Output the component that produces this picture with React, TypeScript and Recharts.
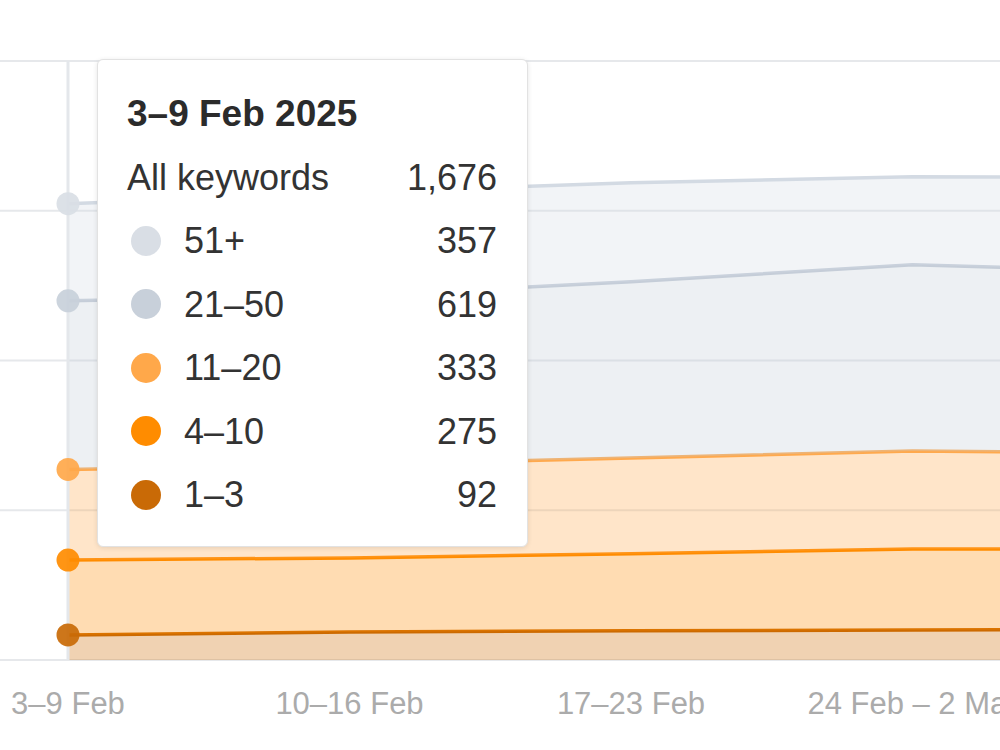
import React from 'react';
import { AreaChart, Area, XAxis, YAxis, CartesianGrid, Tooltip } from 'recharts';

const weeks = ['3–9 Feb', '10–16 Feb', '17–23 Feb', '24 Feb – 2 Mar', '3–9 Mar'];
const weekTitles = ['3–9 Feb 2025', '10–16 Feb 2025', '17–23 Feb 2025', '24 Feb – 2 Mar 2025', '3–9 Mar 2025'];
const pos1to3 = [92, 103, 107, 110, 114];
const pos4to10 = [275, 272, 283, 298, 294];
const pos11to20 = [333, 342, 352, 360, 349];
const pos21to50 = [619, 621, 647, 684, 665];
const pos51plus = [357, 378, 364, 323, 349];
const yTicks = [0, 550, 1100, 1650, 2200];

const series = [
  { key: 'p1_3', name: '1–3', values: pos1to3, stroke: '#cc6a00', dot: '#c96a06' },
  { key: 'p4_10', name: '4–10', values: pos4to10, stroke: '#ff8c00', dot: '#ff8c00' },
  { key: 'p11_20', name: '11–20', values: pos11to20, stroke: '#ffa94d', dot: '#ffa84a' },
  { key: 'p21_50', name: '21–50', values: pos21to50, stroke: '#c5cdd8', dot: '#c8d0da' },
  { key: 'p51', name: '51+', values: pos51plus, stroke: '#d3dae3', dot: '#d9dee5' },
];

const data = weeks.map((w, i) => {
  const row: any = { week: w, title: weekTitles[i] };
  series.forEach((s) => {
    row[s.key] = s.values[i];
  });
  return row;
});

const FONT = '"Liberation Sans", Arial, sans-serif';

const fmt = (n: number) => n.toLocaleString('en-US');

const TooltipBox = (props: any) => {
  const { active, label } = props;
  if (!active) return null;
  const row = data.find((d) => d.week === label) || data[0];
  const total = series.reduce((acc, s) => acc + (row[s.key] as number), 0);
  const rowStyle: React.CSSProperties = {
    display: 'flex',
    alignItems: 'center',
    height: 63.5,
    lineHeight: '63.5px',
  };
  return (
    <div
      style={{
        background: '#fff',
        border: '1px solid #e2e2e2',
        borderRadius: 6,
        boxShadow: '0 1px 5px rgba(0,0,0,0.10)',
        width: 431,
        boxSizing: 'border-box',
        padding: '22px 30px 19px 29px',
        fontFamily: FONT,
        fontSize: 36,
        color: '#333',
      }}
    >
      <div style={{ ...rowStyle, fontWeight: 700, fontSize: 37, color: '#2b2b2b' }}>{row.title}</div>
      <div style={{ ...rowStyle, justifyContent: 'space-between' }}>
        <span>All keywords</span>
        <span>{fmt(total)}</span>
      </div>
      {[...series].reverse().map((s) => (
        <div key={s.key} style={{ ...rowStyle, justifyContent: 'space-between' }}>
          <span style={{ display: 'flex', alignItems: 'center' }}>
            <span
              style={{
                display: 'inline-block',
                width: 30,
                height: 30,
                borderRadius: '50%',
                background: s.dot,
                marginLeft: 4,
                marginRight: 23,
              }}
            />
            <span>{s.name}</span>
          </span>
          <span>{fmt(row[s.key])}</span>
        </div>
      ))}
    </div>
  );
};

export default function App() {
  return (
    <div
      style={{
        position: 'fixed',
        left: 0,
        top: 0,
        width: 1000,
        height: 750,
        overflow: 'hidden',
        background: '#fff',
      }}
    >
      <AreaChart
        width={1262}
        height={750}
        data={data}
        margin={{ top: 61, right: 0, left: 0, bottom: 0 }}
      >
        <CartesianGrid vertical={false} stroke="#e6e8eb" strokeWidth={2} />
        <XAxis
          dataKey="week"
          padding={{ left: 68, right: 68 }}
          axisLine={false}
          tickLine={false}
          tickMargin={26}
          height={90}
          interval={0}
          tick={{ fill: '#ababab', fontSize: 31, fontFamily: FONT }}
        />
        <YAxis hide domain={[0, 2200]} ticks={yTicks} />
        <Tooltip
          active
          defaultIndex={0}
          position={{ x: 97, y: 59 }}
          content={<TooltipBox />}
          cursor={{ stroke: '#e4e7eb', strokeWidth: 3 }}
          isAnimationActive={false}
        />
        {series.map((s) => (
          <Area
            key={s.key}
            type="linear"
            dataKey={s.key}
            name={s.name}
            stackId="pos"
            stroke={s.stroke}
            strokeWidth={3.5}
            fill={s.stroke}
            fillOpacity={0.3}
            dot={false}
            activeDot={{ r: 11.5, fill: s.dot, stroke: 'none', fillOpacity: 0.92 }}
            isAnimationActive={false}
          />
        ))}
      </AreaChart>
    </div>
  );
}
